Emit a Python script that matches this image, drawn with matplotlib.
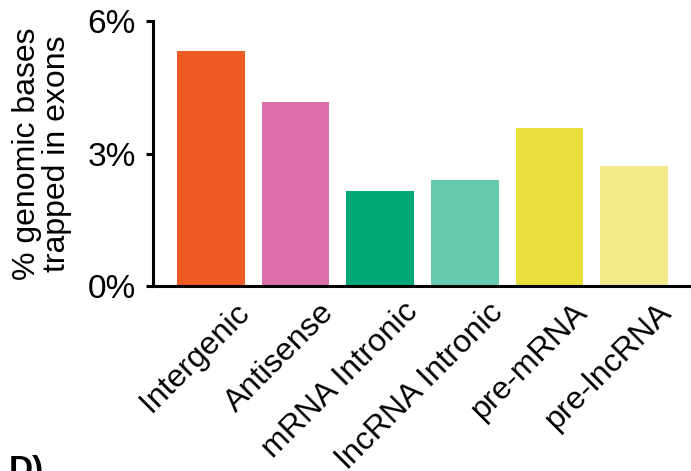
import matplotlib
matplotlib.use('Agg')
import matplotlib.pyplot as plt
import matplotlib.transforms as mtransforms
import numpy as np

plt.rcParams['font.family'] = ['Liberation Sans', 'DejaVu Sans']

# fraction of genomic bases trapped in exons, by region type
categories = ['Intergenic', 'Antisense', 'mRNA Intronic',
              'lncRNA Intronic', 'pre-mRNA', 'pre-lncRNA']
pct_trapped = [5.32, 4.16, 2.15, 2.40, 3.57, 2.71]
bar_colors = ['#F05A24', '#DB6EAB', '#00A875', '#66CAAE', '#E9DE3A', '#F2E98A']
ytick_vals = [0, 3, 6]
ytick_labels = ['0%', '3%', '6%']

fs = 24

fig = plt.figure(figsize=(6.91, 4.71), dpi=100)
ax = fig.add_axes([0.2214, 0.3928, 0.7786, 0.5620])

x = np.arange(len(categories))
ax.bar(x, pct_trapped, width=0.8, color=bar_colors, zorder=1)

ax.set_xlim(-0.686, 5.674)
ax.set_ylim(0, 6)
ax.set_yticks(ytick_vals)
ax.set_yticklabels(ytick_labels, fontsize=fs)
ax.tick_params(axis='y', length=5, width=2.2, pad=7.5)

ax.set_xticks(x)
ax.set_xticklabels(categories, fontsize=23, rotation=45,
                   ha='right', rotation_mode='anchor')
ax.tick_params(axis='x', length=0, pad=8)
# shift the slanted labels so they sit under the right half of each bar
shift = mtransforms.ScaledTranslation(23 / 100, 0, fig.dpi_scale_trans)
for lbl in ax.get_xticklabels():
    lbl.set_transform(lbl.get_transform() + shift)

ax.set_ylabel('% genomic bases\ntrapped in exons', fontsize=23,
              linespacing=1.0, labelpad=11)

for side in ['top', 'right']:
    ax.spines[side].set_visible(False)
for side in ['left', 'bottom']:
    ax.spines[side].set_linewidth(2.2)

fig.text(0.012, 0.034, 'D)', fontsize=fs, fontweight='bold', va='top')

fig.savefig('out.png', dpi=100)
